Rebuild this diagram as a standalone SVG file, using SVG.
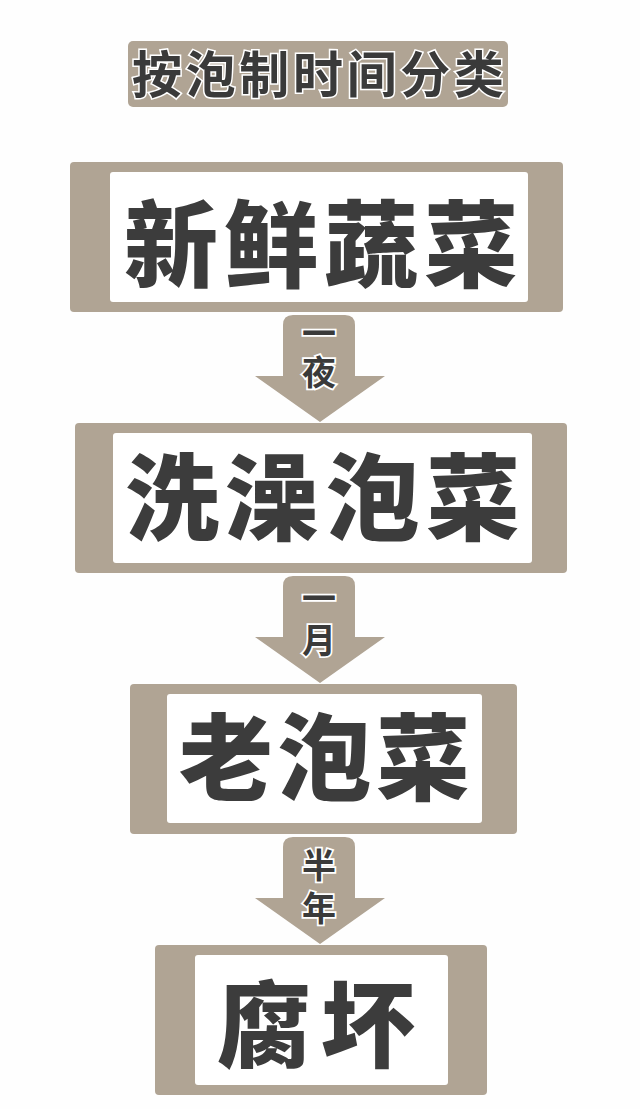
<svg xmlns="http://www.w3.org/2000/svg" width="640" height="1109" viewBox="0 0 640 1109">
  <style>
    .bg { fill: #fefefe; }
    .tan { fill: #b0a494; }
    .inner { fill: #ffffff; }
    .big { font-family: "Noto Sans CJK SC", "Noto Sans CJK JP", sans-serif; font-weight: 900; font-size: 94px; fill: #3c3c3c; }
    .title { font-family: "Noto Sans CJK SC", "Noto Sans CJK JP", sans-serif; font-weight: 700; font-size: 50px; fill: #3a3a3a; stroke: #ffffff; stroke-width: 3; paint-order: stroke; text-anchor: middle; }
    .lbl { font-family: "Noto Sans CJK SC", "Noto Sans CJK JP", sans-serif; font-weight: 700; font-size: 34px; fill: #3a3a3a; stroke: #ffffff; stroke-width: 3.5; paint-order: stroke; writing-mode: vertical-rl; text-anchor: start; }
  </style>
  <defs>
    <path id="arrowShape" d="M283,10 Q283,0 293,0 L345,0 Q355,0 355,10 L355,61 L385,61 L320,107 L255,61 L283,61 Z"/>
  </defs>
  <rect class="bg" x="0" y="0" width="640" height="1109"/>

  <g id="title">
    <rect class="tan" x="128" y="41" width="380" height="66" rx="5"/>
    <text class="title" x="318" y="93" textLength="372" lengthAdjust="spacing">按泡制时间分类</text>
  </g>

  <g id="connectors">
    <g id="arrow1">
      <use href="#arrowShape" class="tan" transform="translate(0,315)"/>
      <text class="lbl" x="319" y="316" style="letter-spacing:5px">一夜</text>
    </g>
    <g id="arrow2">
      <use href="#arrowShape" class="tan" transform="translate(0,576)"/>
      <text class="lbl" x="319" y="581" style="letter-spacing:8px">一月</text>
    </g>
    <g id="arrow3">
      <use href="#arrowShape" class="tan" transform="translate(0,837)"/>
      <text class="lbl" x="319" y="848" style="letter-spacing:9px">半年</text>
    </g>
  </g>

  <g id="node1">
    <rect class="tan" x="70" y="162" width="493" height="150" rx="4"/>
    <rect class="inner" x="110" y="172" width="418" height="130" rx="3"/>
    <text class="big" x="124" y="280" textLength="394" lengthAdjust="spacing">新鲜蔬菜</text>
  </g>

  <g id="node2">
    <rect class="tan" x="75" y="423" width="492" height="150" rx="4"/>
    <rect class="inner" x="113" y="433" width="419" height="130" rx="3"/>
    <text class="big" x="125" y="533" textLength="395" lengthAdjust="spacing">洗澡泡菜</text>
  </g>

  <g id="node3">
    <rect class="tan" x="130" y="684" width="387" height="150" rx="4"/>
    <rect class="inner" x="167" y="694" width="315" height="129" rx="3"/>
    <text class="big" x="179" y="793" textLength="291" lengthAdjust="spacing">老泡菜</text>
  </g>

  <g id="node4">
    <rect class="tan" x="155" y="945" width="332" height="150" rx="4"/>
    <rect class="inner" x="195" y="955" width="253" height="130" rx="3"/>
    <text class="big" x="217" y="1060" textLength="198" lengthAdjust="spacing">腐坏</text>
  </g>
</svg>
